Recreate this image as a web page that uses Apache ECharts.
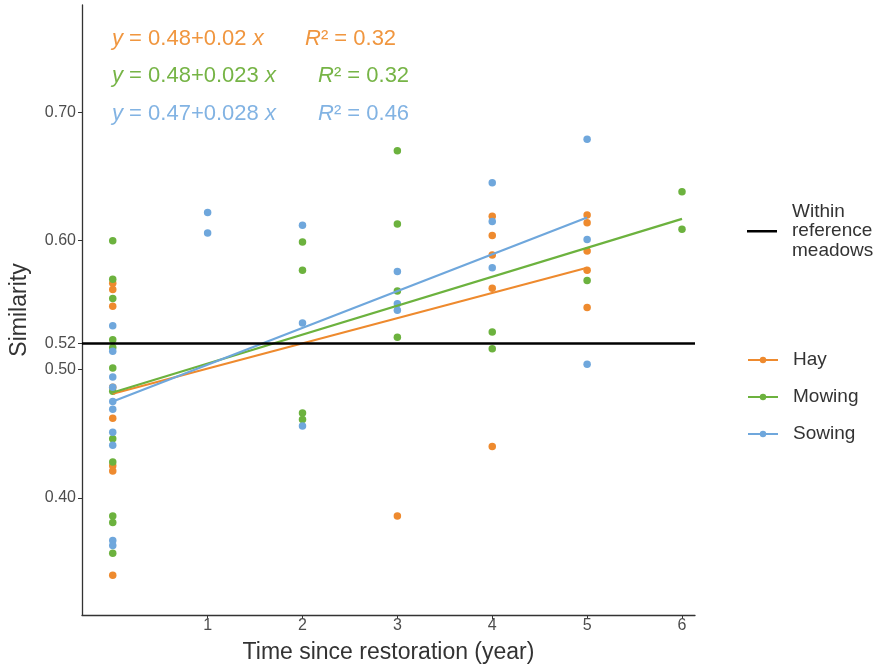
<!DOCTYPE html>
<html>
<head>
<meta charset="utf-8">
<script src="https://cdn.jsdelivr.net/npm/echarts@6/dist/echarts.min.js"></script>
<style>html,body{margin:0;padding:0;background:#fff}#c{width:884px;height:669px}</style>
</head>
<body>
<div id="c"></div>
<script>
const xTicks = [1, 2, 3, 4, 5, 6];
const yTicks = [0.40, 0.50, 0.52, 0.60, 0.70];
const refValue = 0.52;

const hay = [[0,0.567],[0,0.562],[0,0.549],[0,0.486],[0,0.462],[0,0.425],[0,0.421],[0,0.340],
  [3,0.386],[4,0.619],[4,0.604],[4,0.589],[4,0.563],[4,0.440],
  [5,0.620],[5,0.614],[5,0.592],[5,0.577],[5,0.548]];
const mowing = [[0,0.600],[0,0.570],[0,0.555],[0,0.523],[0,0.517],[0,0.501],[0,0.483],[0,0.446],[0,0.428],[0,0.386],[0,0.381],[0,0.357],
  [2,0.599],[2,0.577],[2,0.466],[2,0.461],[3,0.670],[3,0.613],[3,0.561],[3,0.525],
  [4,0.529],[4,0.516],[5,0.569],[6,0.638],[6,0.609]];
const sowing = [[0,0.534],[0,0.514],[0,0.494],[0,0.486],[0,0.475],[0,0.469],[0,0.451],[0,0.441],[0,0.367],[0,0.363],
  [1,0.622],[1,0.606],[2,0.612],[2,0.536],[2,0.456],[3,0.576],[3,0.551],[3,0.546],
  [4,0.645],[4,0.615],[4,0.579],[5,0.679],[5,0.601],[5,0.504]];

const hayFit = [[0,0.481],[5,0.579]];
const mowingFit = [[0,0.482],[6,0.617]];
const sowingFit = [[0,0.475],[5,0.618]];

const eqLines = ['y = 0.48+0.02 x', 'y = 0.48+0.023 x', 'y = 0.47+0.028 x'];
const r2Lines = ['R² = 0.32', 'R² = 0.32', 'R² = 0.46'];

const C = {hay:'#EE8A2E', mow:'#6CB23E', sow:'#6FA7DC'};
const TC = ['#F0963F', '#76B446', '#82B3E3'];
const font = 'Liberation Sans, Arial, sans-serif';

const chart = echarts.init(document.getElementById('c'), null, {renderer:'canvas'});

function fitSeries(name, data, color){
  return {name, type:'line', data, symbol:'circle', symbolSize:6, showSymbol:false,
    lineStyle:{color, width:2.2}, itemStyle:{color}, z:3, silent:true};
}
function ptSeries(name, data, color){
  return {name, type:'scatter', data, symbolSize:7.5, itemStyle:{color, opacity:1}, z:2, silent:true};
}

const eqGraphics = [];
eqLines.forEach((t,i)=>{
  eqGraphics.push({type:'text', left:112, top:27.5+i*37.5, style:{
    text:'{i|y}' + t.slice(1, -1) + '{i|x}', fill:TC[i], font:'22px ' + font,
    rich:{i:{fontStyle:'italic', fontSize:22, fontFamily:font, fill:TC[i]}}
  }});
  eqGraphics.push({type:'text', left:(i===0?305:318), top:27.5+i*37.5, style:{
    text:'{i|R}' + r2Lines[i].slice(1), fill:TC[i], font:'22px ' + font,
    rich:{i:{fontStyle:'italic', fontSize:22, fontFamily:font, fill:TC[i]}}
  }});
});

chart.setOption({
  animation:false,
  backgroundColor:'#fff',
  textStyle:{fontFamily:font},
  grid:{left:80, right:189, top:5, bottom:41, containLabel:false},
  xAxis:{type:'value', min:-0.324, max:6.137,
    name:'Time since restoration (year)', nameLocation:'middle', nameGap:26,
    nameTextStyle:{fontSize:23, color:'#333', fontFamily:font},
    axisLine:{show:true, onZero:false, lineStyle:{color:'#333', width:1.3}},
    axisTick:{show:true, length:4, lineStyle:{color:'#333'}, customValues:xTicks},
    axisLabel:{color:'#4d4d4d', fontSize:16, margin:3, customValues:xTicks, formatter:v=>String(v)},
    splitLine:{show:false}},
  yAxis:{type:'value', min:0.309, max:0.7833,
    name:'Similarity', nameLocation:'middle', nameGap:51, nameRotate:90,
    nameTextStyle:{fontSize:23, color:'#333', fontFamily:font},
    axisLine:{show:true, onZero:false, lineStyle:{color:'#333', width:1.3}},
    axisTick:{show:true, length:4, lineStyle:{color:'#333'}, customValues:yTicks},
    axisLabel:{color:'#4d4d4d', fontSize:16, margin:6, customValues:yTicks, formatter:v=>v.toFixed(2)},
    splitLine:{show:false}},
  legend:[
    {data:[{name:'Within reference meadows', icon:'rect'}], left:747, top:202, orient:'vertical', padding:0,
     itemWidth:30, itemHeight:2.5, itemGap:0,
     formatter:()=>'Within\nreference\nmeadows',
     textStyle:{fontSize:19, color:'#333', lineHeight:19.5, fontFamily:font, padding:[0,0,0,10]}},
    {data:['Hay','Mowing','Sowing'], left:747, top:350, orient:'vertical', padding:0,
     itemWidth:30, itemHeight:8, itemGap:17,
     textStyle:{fontSize:19, color:'#333', lineHeight:20, fontFamily:font, padding:[0,0,0,10]}}
  ],
  graphic:eqGraphics,
  series:[
    fitSeries('Hay', hayFit, C.hay),
    fitSeries('Mowing', mowingFit, C.mow),
    fitSeries('Sowing', sowingFit, C.sow),
    ptSeries('Hay', hay, C.hay),
    ptSeries('Mowing', mowing, C.mow),
    ptSeries('Sowing', sowing, C.sow),
    {name:'Within reference meadows', type:'line', data:[], itemStyle:{color:'#000'}, lineStyle:{color:'#000', width:2.5},
     markLine:{silent:true, symbol:'none', label:{show:false}, lineStyle:{color:'#000', width:2.5, type:'solid'},
       data:[{yAxis:refValue}]}, z:4}
  ]
});
</script>
</body>
</html>
